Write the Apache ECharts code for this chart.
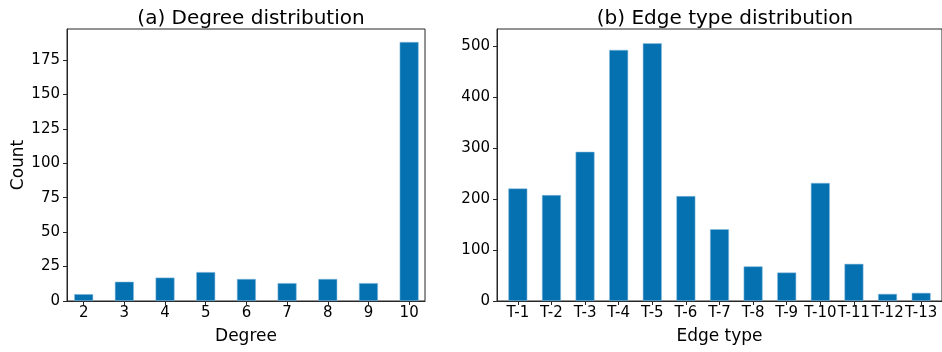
<!DOCTYPE html>
<html><head><meta charset="utf-8">
<script src="https://cdn.jsdelivr.net/npm/echarts@6/dist/echarts.min.js"></script>
<style>html,body{margin:0;padding:0;background:#fff}#c{width:942px;height:352px}</style>
</head><body><div id="c"></div>
<script>
const degreeCategories = ['2','3','4','5','6','7','8','9','10'];
const degreeCounts = [5, 14, 17, 21, 16, 13, 16, 13, 188];
const degreeYTicks = [0, 25, 50, 75, 100, 125, 150, 175];
const edgeTypes = ['T-1','T-2','T-3','T-4','T-5','T-6','T-7','T-8','T-9','T-10','T-11','T-12','T-13'];
const edgeCounts = [221, 208, 293, 493, 506, 206, 141, 68, 56, 232, 73, 14, 16];
const edgeYTicks = [0, 100, 200, 300, 400, 500];

const FONT = 'DejaVu Sans';
const AX = '#262626';
const BAR = '#0571b0';

function idx(arr) { return arr.map((_, i) => i); }

function labelStyle() {
  return { fontFamily: FONT, fontSize: 15, color: '#000' };
}
function xAxisFor(cats, lo, hi, name, gi) {
  return {
    type: 'value', gridIndex: gi, min: lo, max: hi,
    name: name, nameLocation: 'middle', nameGap: 27,
    nameTextStyle: { fontFamily: FONT, fontSize: 17, color: '#000' },
    axisLine: { show: true, onZero: false, lineStyle: { color: AX, width: 1 } },
    axisTick: { show: true, inside: false, length: 4, customValues: idx(cats), lineStyle: { color: AX } },
    axisLabel: Object.assign({ customValues: idx(cats), margin: 5, formatter: v => cats[Math.round(v)] }, labelStyle()),
    splitLine: { show: false }
  };
}
function yAxisFor(ticks, hi, name, gi) {
  return {
    type: 'value', gridIndex: gi, min: 0, max: hi,
    name: name, nameLocation: 'middle', nameGap: 40,
    nameTextStyle: { fontFamily: FONT, fontSize: 17, color: '#000' },
    axisLine: { show: true, onZero: false, lineStyle: { color: AX, width: 1 } },
    axisTick: { show: true, inside: false, length: 4, customValues: ticks, lineStyle: { color: AX } },
    axisLabel: Object.assign({ customValues: ticks, margin: 7 }, labelStyle()),
    splitLine: { show: false }
  };
}

const chart = echarts.init(document.getElementById('c'), null, { renderer: 'canvas' });
chart.setOption({
  animation: false,
  backgroundColor: '#fff',
  textStyle: { fontFamily: FONT },
  title: [
    { text: '(a) Degree distribution', left: 246, top: 4, textAlign: 'center',
      textStyle: { fontFamily: FONT, fontSize: 20, fontWeight: 'normal', color: '#000' } },
    { text: '(b) Edge type distribution', left: 720, top: 4, textAlign: 'center',
      textStyle: { fontFamily: FONT, fontSize: 20, fontWeight: 'normal', color: '#000' } }
  ],
  grid: [
    { left: 67, right: 517, top: 29, bottom: 51, show: true, borderColor: AX, borderWidth: 1, backgroundColor: 'transparent' },
    { left: 497, right: -2, top: 29, bottom: 51, show: true, borderColor: AX, borderWidth: 1, backgroundColor: 'transparent' }
  ],
  xAxis: [
    xAxisFor(degreeCategories, -0.41, 8.39, 'Degree', 0),
    xAxisFor(edgeTypes, -0.62, 12.62, 'Edge type', 1)
  ],
  yAxis: [
    yAxisFor(degreeYTicks, 197.4, 'Count', 0),
    yAxisFor(edgeYTicks, 534, '', 1)
  ],
  series: [
    { type: 'bar', xAxisIndex: 0, yAxisIndex: 0, barWidth: 19,
      itemStyle: { color: BAR, borderColor: 'rgba(140,190,225,0.9)', borderWidth: 0.6 },
      data: degreeCounts.map((v, i) => [i, v]) },
    { type: 'bar', xAxisIndex: 1, yAxisIndex: 1, barWidth: 19,
      itemStyle: { color: BAR, borderColor: 'rgba(140,190,225,0.9)', borderWidth: 0.6 },
      data: edgeCounts.map((v, i) => [i, v]) }
  ]
});
</script></body></html>
